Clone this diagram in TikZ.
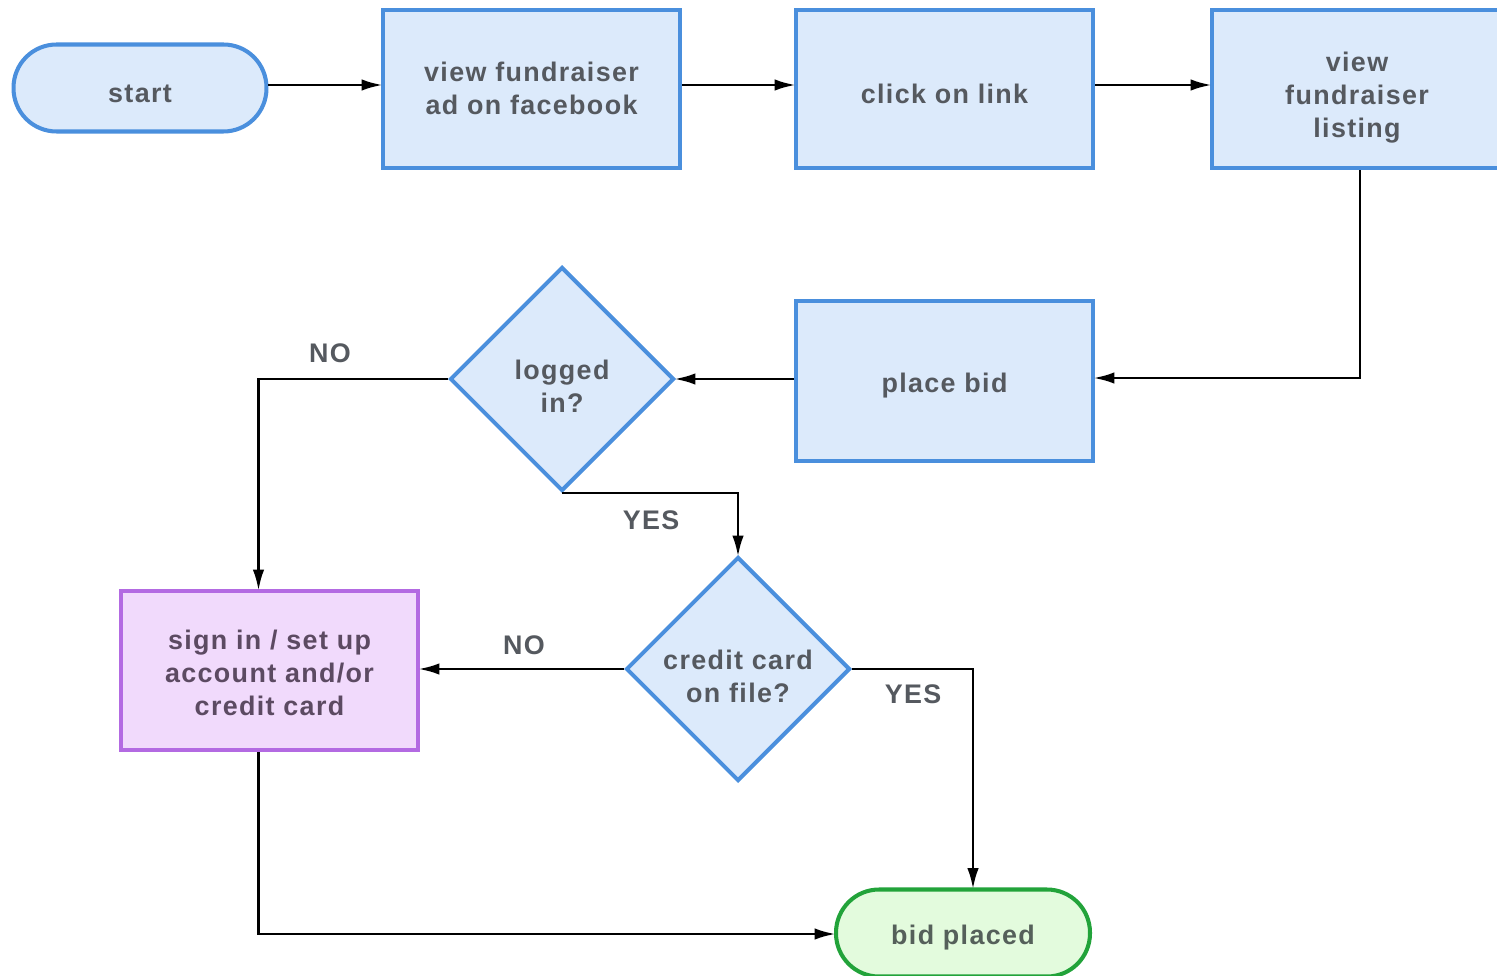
\documentclass[tikz,border=0pt]{standalone}
\usepackage{fontspec}
\setmainfont{Liberation Sans}[LetterSpace=5]
\usetikzlibrary{arrows.meta,shapes.geometric,calc}
\definecolor{bblue}{HTML}{4A8FDD}
\definecolor{fblue}{HTML}{DCEAFB}
\definecolor{bpurp}{HTML}{B36AE2}
\definecolor{fpurp}{HTML}{F1DAFC}
\definecolor{bgreen}{HTML}{22A33A}
\definecolor{fgreen}{HTML}{E3FBDD}
\definecolor{tgray}{HTML}{55595F}
\definecolor{tpurp}{HTML}{5C4A62}
\definecolor{tgreen}{HTML}{55605A}
\tikzset{
  txt/.style={font=\fontsize{15.3pt}{18.9pt}\selectfont\bfseries, align=center, text=tgray},
  box/.style={draw=bblue, fill=fblue, line width=2.3pt, inner sep=0pt},
  rbox/.style={box, rectangle},
  term/.style={box, rectangle, rounded corners=0.86cm},
  dec/.style={box, diamond, aspect=1, minimum width=4.48cm, minimum height=4.48cm},
  arr/.style={-{Latex[length=12pt,width=6.5pt]}, line width=1.6pt, black, shorten >=-1pt},
  lbl/.style={txt, text=tgray}
}
\begin{document}
\begin{tikzpicture}[x=0.02cm,y=-0.02cm]
\useasboundingbox (0,0) rectangle (1497,976);
\node[term, minimum width=5.06cm, minimum height=1.74cm,
  label={[txt, yshift=-0.12cm]center:start}] (start) at (140,88) {};
\node[rbox, minimum width=5.94cm, minimum height=3.16cm,
  label={[txt, yshift=0.01cm]center:{view fundraiser\\ad on facebook}}] (ad) at (531.5,89) {};
\node[rbox, minimum width=5.94cm, minimum height=3.16cm,
  label={[txt, yshift=-0.09cm]center:click on link}] (click) at (944.5,89) {};
\node[rbox, minimum width=5.80cm, minimum height=3.16cm,
  label={[txt, yshift=-0.17cm]center:{view\\fundraiser\\listing}}] (listing) at (1357,89) {};
\node[rbox, minimum width=5.94cm, minimum height=3.20cm,
  label={[txt, yshift=-0.1cm]center:place bid}] (bid) at (944.5,381) {};
\node[dec, label={[txt, yshift=-0.15cm]center:{logged\\in?}}] (logged) at (562,379) {};
\node[dec, label={[txt, yshift=-0.15cm]center:{credit card\\on file?}}] (credit) at (738,669) {};
\node[rbox, draw=bpurp, fill=fpurp, minimum width=5.94cm, minimum height=3.18cm,
  label={[txt, text=tpurp, yshift=-0.05cm]center:{sign in / set up\\account and/or\\credit card}}] (sign) at (269.5,670.5) {};
\node[term, draw=bgreen, fill=fgreen, minimum width=5.08cm, minimum height=1.74cm,
  label={[txt, text=tgreen, yshift=-0.1cm]center:bid placed}] (placed) at (963,933) {};

\draw[arr] (start.east |- 0,85) -- (ad.west |- 0,85);
\draw[arr] (ad.east |- 0,85) -- (click.west |- 0,85);
\draw[arr] (click.east |- 0,85) -- (listing.west |- 0,85);
\draw[arr] (listing.south -| 1360,0) |- (bid.east |- 0,378);
\draw[arr] (bid.west |- logged.east) -- (logged.east);
\coordinate (signtop) at ($(sign.north)+(-11,0)$);
\coordinate (signbot) at ($(sign.south)+(-11,0)$);
\coordinate (placedtop) at ($(placed.north)+(10,0)$);
\draw[arr] (logged.west) -| (signtop);
\draw[arr] (logged.south) -| (credit.north);
\draw[arr] (credit.west) -- (sign.east |- credit.west);
\draw[arr] (credit.east) -| (placedtop);
\draw[arr] (signbot) |- (placed.west |- 0,934);

\node[lbl] (no1) at (330,353) {NO};
\node[lbl] (yes1) at (651,520) {YES};
\node[lbl] (no2) at (524,645) {NO};
\node[lbl] (yes2) at (913,694) {YES};
\end{tikzpicture}
\end{document}
